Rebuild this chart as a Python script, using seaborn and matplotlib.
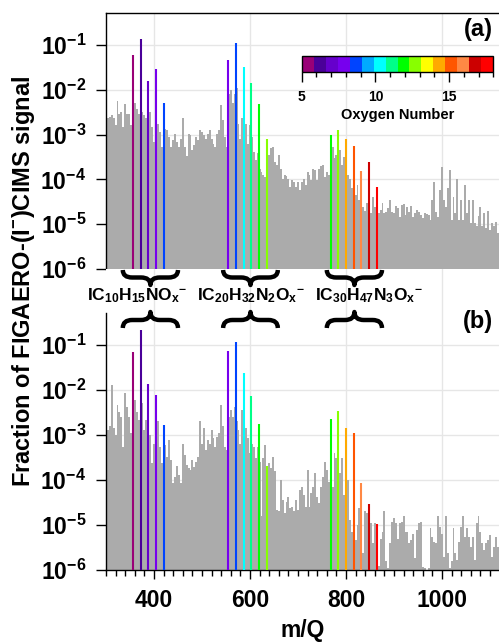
import numpy as np
import pandas as pd
import matplotlib
matplotlib.use("Agg")
import matplotlib.pyplot as plt
import seaborn as sns
from matplotlib.colors import ListedColormap, Normalize
from matplotlib.cm import ScalarMappable
from matplotlib.path import Path
from matplotlib.patches import PathPatch
from matplotlib import transforms as mtransforms
from matplotlib.ticker import FixedLocator, MultipleLocator, NullLocator

# ---------------------------------------------------------------- data
# Binned background spectrum: first bin centre and bin width (m/Q)
SPEC_START, SPEC_STEP = 300, 4

# log10(fraction of signal) per bin, rows of 10 bins (40 m/Q each)
spec_a_log10 = [
    -2.67, -2.62, -2.61, -2.57, -2.62, -2.79, -2.24, -2.53, -2.50, -2.83,   # 300
    -2.31, -2.53, -2.53, -2.79, -2.39, -2.30, -2.42, -2.53, -2.46, -2.50,   # 340
    -2.57, -2.62, -2.53, -2.50, -2.83, -3.16, -2.90, -2.76, -2.94, -3.27,   # 380
    -3.09, -2.87, -2.90, -3.05, -3.27, -3.13, -2.98, -3.16, -3.27, -3.09,   # 420
    -2.64, -3.27, -3.48, -2.98, -3.01, -3.35, -3.24, -3.05, -3.13, -2.90,   # 460
    -2.94, -3.01, -3.09, -2.98, -2.90, -3.09, -3.20, -3.27, -2.98, -2.90,   # 500
    -2.35, -2.68, -3.05, -3.27, -2.10, -2.00, -2.30, -2.10, -1.95, -2.76,   # 540
    -3.09, -2.64, -2.68, -2.76, -3.20, -2.79, -3.05, -3.39, -3.57, -3.42,   # 580
    -3.76, -3.83, -3.90, -3.94, -4.01, -3.46, -3.31, -3.27, -3.61, -3.68,   # 620
    -3.46, -3.76, -3.98, -3.90, -3.93, -3.98, -4.16, -4.01, -4.05, -4.16,   # 660
    -4.05, -4.24, -4.05, -3.98, -4.13, -3.83, -3.90, -4.01, -3.76, -3.79,   # 700
    -4.01, -3.76, -3.70, -3.68, -3.94, -3.83, -3.90, -3.57, -3.27, -3.53,   # 740
    -3.46, -3.35, -3.35, -3.68, -3.50, -3.64, -3.90, -3.98, -4.20, -4.24,   # 780
    -4.35, -4.13, -4.46, -4.53, -4.61, -4.70, -4.53, -4.60, -4.76, -4.39,   # 820
    -4.61, -4.76, -4.76, -4.68, -4.53, -4.76, -4.72, -4.64, -4.46, -4.72,   # 860
    -4.76, -4.59, -4.64, -4.83, -4.57, -4.55, -4.79, -4.61, -4.72, -4.59,   # 900
    -4.84, -4.76, -4.68, -4.72, -4.79, -4.87, -4.76, -4.77, -4.79, -4.90,   # 940
    -4.46, -4.05, -4.72, -4.83, -4.24, -3.72, -4.46, -4.61, -4.20, -3.79,   # 980
    -4.90, -4.39, -4.76, -3.98, -4.90, -4.46, -4.90, -4.12, -4.76, -4.46,   # 1020
    -4.98, -4.46, -4.98, -5.05, -4.81, -4.61, -5.05, -4.76, -5.09, -4.70,   # 1060
    -5.12, -4.98, -5.05, -4.95, -5.20, -5.05,                               # 1100
]
spec_b_log10 = [
    -2.95, -2.89, -2.81, -1.89, -2.85, -3.00, -2.33, -2.48, -2.59, -3.26,   # 300
    -2.07, -2.37, -2.59, -2.96, -2.74, -2.22, -2.48, -2.67, -2.59, -2.30,   # 340
    -2.89, -2.67, -2.81, -3.00, -3.63, -3.19, -2.90, -2.70, -3.26, -3.63,   # 380
    -3.30, -3.22, -3.48, -3.11, -3.56, -4.07, -3.93, -3.70, -3.89, -4.07,   # 420
    -3.19, -3.44, -3.67, -3.74, -3.78, -3.56, -3.72, -3.59, -3.48, -2.70,   # 460
    -3.19, -2.85, -3.33, -3.11, -3.19, -2.89, -3.07, -3.26, -3.04, -2.96,   # 500
    -2.33, -2.81, -3.26, -3.33, -2.60, -2.44, -2.59, -2.37, -2.70, -2.89,   # 540
    -3.19, -2.44, -2.70, -2.85, -3.07, -3.41, -3.20, -3.26, -3.52, -3.26,   # 580
    -3.60, -4.81, -3.52, -3.22, -3.93, -3.63, -3.74, -3.48, -3.81, -4.67,   # 620
    -4.70, -4.00, -4.44, -4.74, -4.48, -4.37, -4.63, -4.59, -4.70, -4.44,   # 660
    -4.67, -4.22, -4.15, -4.33, -4.59, -3.78, -4.59, -4.30, -4.15, -3.85,   # 700
    -4.37, -4.52, -4.15, -3.93, -3.59, -3.78, -4.04, -3.90, -4.15, -3.41,   # 740
    -3.52, -3.40, -3.85, -3.52, -4.33, -3.80, -4.00, -4.89, -5.15, -4.90,   # 780
    -5.33, -5.00, -4.63, -4.80, -5.63, -4.70, -4.74, -4.80, -4.96, -5.41,   # 820
    -4.96, -5.20, -5.90, -5.30, -5.15, -4.70, -5.81, -5.96, -5.41, -4.93,   # 860
    -4.85, -4.96, -5.30, -4.96, -4.93, -4.81, -5.15, -5.15, -5.41, -5.33,   # 900
    -5.19, -5.74, -5.11, -4.96, -4.93, -5.93, -5.96, -6.00, -5.96, -5.07,   # 940
    -5.26, -5.37, -5.41, -4.81, -5.04, -5.19, -5.70, -4.81, -5.63, -5.96,   # 980
    -5.81, -5.07, -5.63, -5.78, -5.37, -5.04, -4.81, -5.26, -5.07, -5.26,   # 1020
    -5.48, -5.26, -5.78, -4.96, -4.81, -5.15, -5.41, -5.56, -5.41, -5.33,   # 1060
    -5.22, -5.70, -5.48, -5.26, -5.48, -5.48,                               # 1100
]

# Highlighted monomer / dimer / trimer series
family_labels = [r"IC$_{10}$H$_{15}$NO$_{x}$$^{-}$",
                 r"IC$_{20}$H$_{32}$N$_{2}$O$_{x}$$^{-}$",
                 r"IC$_{30}$H$_{47}$N$_{3}$O$_{x}$$^{-}$"]
peak_mz = [[356, 372, 388, 404, 420],
           [555, 571, 587, 603, 619, 635],
           [768, 784, 800, 816, 832, 848, 864]]
peak_oxygen = [[5, 6, 7, 8, 9],
               [8, 9, 10, 11, 12, 13],
               [12, 13, 14, 15, 16, 17, 18]]
peak_frac_a = [[0.060, 0.136, 0.0158, 0.0296, 0.0050],
               [0.047, 0.109, 0.032, 0.014, 0.0048, 0.00079],
               [0.00096, 0.00126, 0.00080, 0.00055, 0.000155, 0.00024, 0.0000676]]
peak_frac_b = [[0.069, 0.215, 0.0136, 0.0078, 0.00166],
               [0.072, 0.118, 0.0243, 0.0074, 0.00175, 0.0002],
               [0.00222, 0.0035, 0.0014, 0.00112, 0.000087, 0.0000296, 0.0000107]]

# Brace extents (m/Q) and label centres under/over each family
brace_spans = [(335, 450), (544, 658), (760, 875)]
label_mz = [365, 602, 848]

# Discrete oxygen-number palette
oxygen_colors = ["#990077", "#4A0099", "#6600CC", "#7700EE", "#0044FF", "#00AAFF",
                 "#00FFFF", "#00FF88", "#00FF00", "#88FF00", "#FFFF00", "#FFAA00",
                 "#FF5500", "#FF8844", "#CC0000", "#FF0000"]
O_MIN, O_MAX = 5, 18
y_tick_vals = [1e-6, 1e-5, 1e-4, 1e-3, 1e-2, 1e-1]
y_tick_text = [r"$10^{-6}$", r"$10^{-5}$", r"$10^{-4}$", r"$10^{-3}$", r"$10^{-2}$", r"$10^{-1}$"]
x_tick_vals = [400, 600, 800, 1000]

# ---------------------------------------------------------------- style
sns.set_style("white")
plt.rcParams.update({
    "font.family": ["Liberation Sans", "DejaVu Sans"],
    "font.weight": "bold",
    "mathtext.fontset": "custom",
    "mathtext.rm": "Liberation Sans:bold",
    "mathtext.bf": "Liberation Sans:bold",
    "mathtext.it": "Liberation Sans:bold",
    "mathtext.default": "rm",
    "axes.linewidth": 1.0,
    "axes.edgecolor": "black",
    "text.color": "black",
    "axes.labelcolor": "black",
    "xtick.color": "black",
    "ytick.color": "black",
    "xtick.labelcolor": "black",
    "ytick.labelcolor": "black",
})

GRAY = "#ABABAB"
GRID = "#E6E6E6"
cmap = ListedColormap(oxygen_colors)
norm = Normalize(O_MIN, O_MAX)

W, H = 499, 642
fig = plt.figure(figsize=(W / 100, H / 100), dpi=100)


def fx(px):
    return px / W


def fy(py):
    return 1 - py / H


ax_a = fig.add_axes([fx(106), fy(269), fx(499) - fx(106), fy(13) - fy(269)])
ax_b = fig.add_axes([fx(106), fy(570), fx(499) - fx(106), fy(269) - fy(570)])

mz = SPEC_START + SPEC_STEP * np.arange(len(spec_a_log10))
bin_range = (SPEC_START - SPEC_STEP / 2, mz[-1] + SPEC_STEP / 2)

for ax, spec_log, peaks in [(ax_a, spec_a_log10, peak_frac_a),
                            (ax_b, spec_b_log10, peak_frac_b)]:
    df = pd.DataFrame({"mz": mz.astype(float), "frac": 10.0 ** np.asarray(spec_log)})
    sns.histplot(data=df, x="mz", weights="frac", binwidth=SPEC_STEP,
                 binrange=bin_range, ax=ax, color=GRAY, alpha=1,
                 linewidth=0, edgecolor="none")
    ax.set_yscale("log")
    for xs, os_, hs in zip(peak_mz, peak_oxygen, peaks):
        ax.vlines(xs, 1e-6, hs, colors=[cmap(norm(o)) for o in os_],
                  lw=1.5, zorder=3)
    ax.set_xlim(300, 300 + (499 - 106) / 0.48)
    ax.set_xlabel("")
    ax.set_ylabel("")
    ax.set_axisbelow(True)
    ax.grid(True, which="major", color=GRID, lw=1)
    ax.set_yticks(y_tick_vals, y_tick_text)
    ax.yaxis.set_minor_locator(NullLocator())
    ax.tick_params(axis="y", which="major", direction="out", length=7.2,
                   width=1.0, pad=7, labelsize=16.5, colors="black", left=True)
    ax.set_xticks(x_tick_vals)

# panel (a): framed top, no x tick marks
ax_a.set_ylim(1e-6, 10 ** (-1 + (45 - 13) / 44.8))
ax_a.spines["bottom"].set_visible(False)
ax_a.spines["right"].set_visible(False)
ax_a.tick_params(axis="x", length=0, labelbottom=False)

# panel (b): open axes, labelled m/Q axis
ax_b.set_ylim(1e-6, 10 ** (-1 + (345 - 269) / 45))
ax_b.spines["top"].set_visible(False)
ax_b.spines["right"].set_visible(False)
ax_b.spines["left"].set_bounds(1e-6, 10 ** (-1 + (345 - 313) / 45))
ax_b.set_xticks(x_tick_vals, [str(v) for v in x_tick_vals])
ax_b.xaxis.set_minor_locator(MultipleLocator(20))
ax_b.tick_params(axis="x", which="major", direction="out", length=6.8,
                 width=1.0, pad=7, labelsize=16.5, bottom=True, colors="black")
ax_b.tick_params(axis="x", which="minor", direction="out", length=4.3,
                 width=1.0, bottom=True, colors="black")

ax_a.text(0.985, 0.935, "(a)", transform=ax_a.transAxes, ha="right",
          va="center", fontsize=17, fontweight="bold")
ax_b.text(0.985, 0.825, "(b)", transform=ax_b.transAxes, ha="right",
          va="center", fontsize=17, fontweight="bold")

# oxygen-number colour bar
cax = fig.add_axes([fx(301.7), fy(72), fx(493.3) - fx(301.7), fy(55.5) - fy(72)])
cb = fig.colorbar(ScalarMappable(norm=norm, cmap=cmap), cax=cax,
                  orientation="horizontal")
cb.set_ticks([5, 10, 15])
cb.ax.xaxis.set_minor_locator(FixedLocator(range(O_MIN, O_MAX + 1)))
cb.ax.tick_params(which="major", length=7, width=1.0, pad=6, labelsize=10,
                  colors="black")
cb.ax.tick_params(which="minor", length=3.6, width=1.0, colors="black")
cb.outline.set_linewidth(1.0)
cb.outline.set_edgecolor("black")
cb.set_label("Oxygen Number", fontsize=10.5, fontweight="bold", labelpad=3,
             color="black")

# braces and family labels between the panels
blend = mtransforms.blended_transform_factory(ax_a.transData, fig.transFigure)


def brace(x0, x1, y_end, y_tip):
    xc = (x0 + x1) / 2
    ym = (y_end + y_tip) / 2
    q = (x1 - x0) * 0.17
    verts = [(x0, y_end), (x0, ym), (x0 + q, ym),
             (xc - q, ym), (xc, ym), (xc, y_tip),
             (xc, ym), (xc + q, ym),
             (x1 - q, ym), (x1, ym), (x1, y_end)]
    codes = [Path.MOVETO, Path.CURVE3, Path.CURVE3,
             Path.LINETO, Path.CURVE3, Path.CURVE3,
             Path.CURVE3, Path.CURVE3,
             Path.LINETO, Path.CURVE3, Path.CURVE3]
    fig.add_artist(PathPatch(Path(verts, codes), transform=blend, fill=False,
                             lw=3.2, edgecolor="black", clip_on=False,
                             capstyle="butt", joinstyle="round"))


for (x0, x1), lx, lab in zip(brace_spans, label_mz, family_labels):
    brace(x0, x1, fy(270), fy(285))
    brace(x0, x1, fy(328), fy(312))
    fig.text(lx, fy(296), lab, transform=blend, ha="center", va="center",
             fontsize=12.5, color="black")

fig.text(fx(24), fy(281), r"Fraction of FIGAERO-(I$^{-}$)CIMS signal",
         rotation=90, ha="center", va="center", fontsize=17, fontweight="bold",
         color="black")
fig.text(fx(302.5), fy(631), "m/Q", ha="center", va="center", fontsize=16.5,
         fontweight="bold", color="black")

fig.savefig("out.png", dpi=100)
